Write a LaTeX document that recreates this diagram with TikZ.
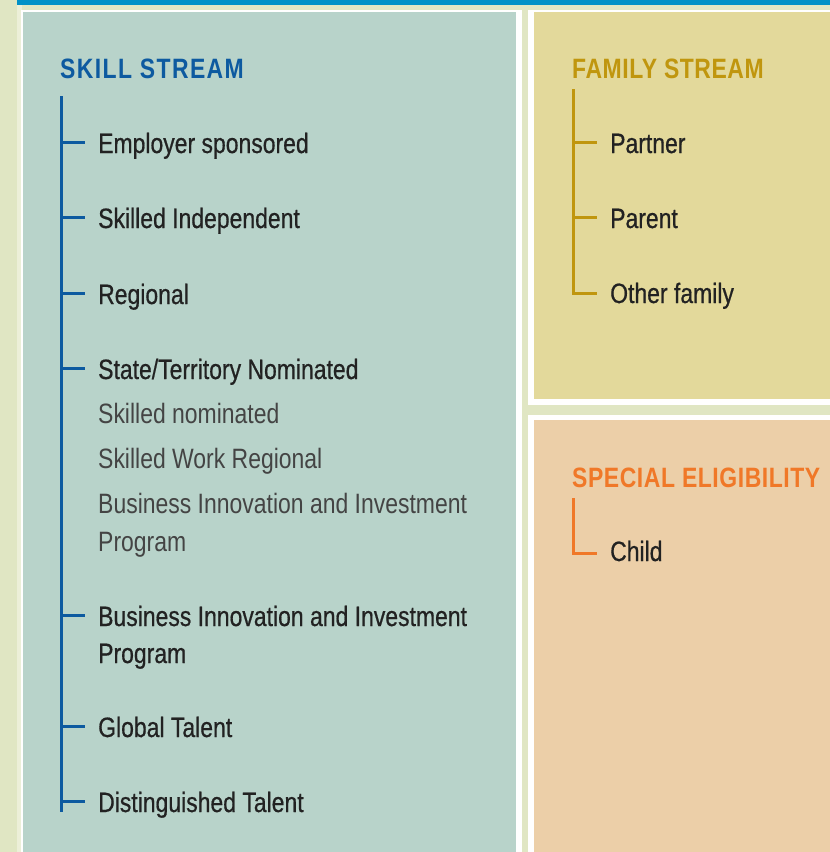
\documentclass[tikz,border=0pt]{standalone}
\usepackage{fontspec}
\setmainfont{Liberation Sans}[FakeStretch=0.82]
\newfontfamily\itemfont{Liberation Sans}[FakeStretch=0.82,FakeBold=0.6]
\newfontfamily\headfont{Liberation Sans}[FakeStretch=0.82,LetterSpace=2]
\newfontfamily\headspaced{Liberation Sans}[FakeStretch=0.82,LetterSpace=5]
\definecolor{bgleaf}{HTML}{E0E6C3}
\definecolor{bgpale}{HTML}{ECEFD8}
\definecolor{topbar}{HTML}{0091C7}
\definecolor{skillfill}{HTML}{B8D3CA}
\definecolor{familyfill}{HTML}{E3D99B}
\definecolor{specialfill}{HTML}{ECCFA8}
\definecolor{skillblue}{HTML}{0D5AA0}
\definecolor{familygold}{HTML}{C0960E}
\definecolor{specialorange}{HTML}{F07828}
\definecolor{itemdark}{HTML}{222222}
\definecolor{itemsub}{HTML}{444444}
\begin{document}
\begin{tikzpicture}[x=1pt,y=-1pt,line cap=butt,
    item/.style={anchor=base west,inner sep=0pt,text=itemdark,font={\itemfont\fontsize{28}{38}\selectfont}},
    subitem/.style={item,text=itemsub,font={\normalfont\fontsize{28}{38}\selectfont}},
    head/.style={anchor=base west,inner sep=0pt,font={\headfont\bfseries\fontsize{28}{34}\selectfont}},
    skline/.style={draw=skillblue,line width=3pt},
    famline/.style={draw=familygold,line width=3pt},
    speline/.style={draw=specialorange,line width=3pt}]
    \useasboundingbox (0,0) rectangle (830,852);

    % background and panels
    \fill[bgleaf] (0,0) rectangle (830,852);
    \fill[bgpale] (17,5) rectangle (22,852);
    \fill[topbar] (17,0) rectangle (830,5);
    \fill[white] (21,10) rectangle (522,852);
    \fill[skillfill] (23,12) rectangle (516,852);
    \fill[white] (528,10) rectangle (830,405);
    \fill[familyfill] (534,12) rectangle (830,399);
    \fill[white] (528,415) rectangle (830,852);
    \fill[specialfill] (534,420) rectangle (830,852);

    % skill stream
    \node[head, text=skillblue, font={\headspaced\bfseries\fontsize{28}{34}\selectfont}] (skhead) at (60,78) {SKILL STREAM};
    \coordinate (sktop) at (61,96);
    \coordinate (skbot) at (61,812);

    \node[item] (sk1) at (98,153) {Employer sponsored};
    \node[item] (sk2) at (98,228) {Skilled Independent};
    \node[item] (sk3) at (98,304) {Regional};
    \node[item] (sk4) at (98,379) {State/Territory Nominated};
    \node[subitem] (sk4a) at (98,423) {Skilled nominated};
    \node[subitem] (sk4b) at (98,468) {Skilled Work Regional};
    \node[subitem] (sk4c) at (98,513) {Business Innovation and Investment};
    \node[subitem, anchor=base west] (sk4d) at ([yshift=-38pt]sk4c.base west) {Program};
    \node[item] (sk5) at (98,626) {Business Innovation and Investment};
    \node[item, anchor=base west] (sk5b) at ([yshift=-37pt]sk5.base west) {Program};
    \node[item] (sk6) at (98,737) {Global Talent};
    \node[item] (sk7) at (98,812) {Distinguished Talent};

    \draw[skline] (sktop) -- (skbot);
    \foreach \n in {sk1,sk2,sk3,sk4,sk5,sk6,sk7}
        \draw[skline] ([yshift=11pt]\n.base west -| sktop) -- ([xshift=-13pt,yshift=11pt]\n.base west);

    % family stream
    \node[head, text=familygold] (famhead) at (572,78) {FAMILY STREAM};
    \coordinate (famtop) at (573,89);

    \node[item] (fam1) at (610,153) {Partner};
    \node[item] (fam2) at (610,228) {Parent};
    \node[item] (fam3) at (610,303) {Other family};

    \draw[famline] (famtop) |- ([xshift=-13pt,yshift=10pt]fam3.base west);
    \foreach \n in {fam1,fam2}
        \draw[famline] ([yshift=11pt]\n.base west -| famtop) -- ([xshift=-13pt,yshift=11pt]\n.base west);

    % special eligibility
    \node[head, text=specialorange] (spehead) at (572,487) {SPECIAL ELIGIBILITY};
    \coordinate (spetop) at (573,498);

    \node[item] (spe1) at (610,561) {Child};

    \draw[speline] (spetop) |- ([xshift=-13pt,yshift=8pt]spe1.base west);
\end{tikzpicture}
\end{document}
